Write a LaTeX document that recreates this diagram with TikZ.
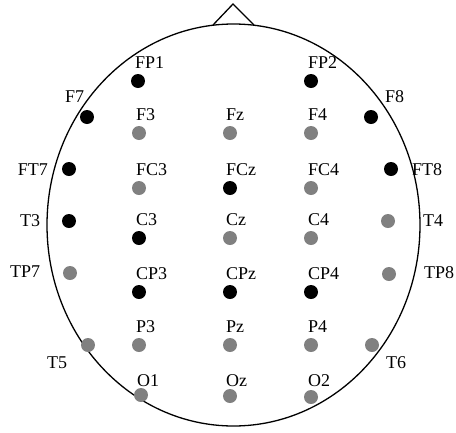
\documentclass[tikz,border=0pt]{standalone}
\usepackage{fontspec}
\setmainfont{Liberation Serif}
\definecolor{egray}{RGB}{128,128,128}
\begin{document}
\begin{tikzpicture}[x=1pt,y=-1pt,
  head/.style={line width=1.3pt, draw=black},
  bdot/.style={circle, fill=black, inner sep=0pt, minimum size=14pt},
  gdot/.style={circle, fill=egray, inner sep=0pt, minimum size=14pt},
  lab/.style={font=\fontsize{18}{18}\selectfont, inner sep=0pt, anchor=base west},
  labe/.style={lab, anchor=base east}]
\useasboundingbox (0,0) rectangle (456,432);
% head outline and nose
\draw[head] (233.5,225) ellipse [x radius=186.5, y radius=201];
\coordinate (noseL) at (213,25);
\coordinate (noseT) at (233,4);
\coordinate (noseR) at (254,25);
\draw[head, line join=miter] (noseL) -- (noseT) -- (noseR);
% FP row
\node[bdot] (FP1) at (138,81) {};
\node[bdot] (FP2) at (311,81) {};
\node[lab] (lFP1) at (135,68) {FP1};
\node[lab] (lFP2) at (308,68) {FP2};
% F row
\node[bdot] (F7) at (87,117) {};
\node[gdot] (F3) at (139,133) {};
\node[gdot] (Fz) at (230,133) {};
\node[gdot] (F4) at (311,133) {};
\node[bdot] (F8) at (371,117) {};
\node[lab] (lF7) at (65,102) {F7};
\node[lab] (lF3) at (136,120) {F3};
\node[lab] (lFz) at (226,120) {Fz};
\node[lab] (lF4) at (308,120) {F4};
\node[lab] (lF8) at (385,102) {F8};
% FC row
\node[bdot] (FT7) at (69,169) {};
\node[gdot] (FC3) at (139,188) {};
\node[bdot] (FCz) at (230,188) {};
\node[gdot] (FC4) at (311,188) {};
\node[bdot] (FT8) at (391,169) {};
\node[labe] (lFT7) at (48,175) {FT7};
\node[lab] (lFC3) at (136,175) {FC3};
\node[lab] (lFCz) at (226,175) {FCz};
\node[lab] (lFC4) at (308,175) {FC4};
\node[lab] (lFT8) at (412,175) {FT8};
% C row
\node[bdot] (T3) at (69,221) {};
\node[bdot] (C3) at (139,238) {};
\node[gdot] (Cz) at (230,238) {};
\node[gdot] (C4) at (311,238) {};
\node[gdot] (T4) at (388,221) {};
\node[lab] (lT3) at (20,226) {T3};
\node[lab] (lC3) at (136,225) {C3};
\node[lab] (lCz) at (226,225) {Cz};
\node[lab] (lC4) at (308,225) {C4};
\node[lab] (lT4) at (423,226) {T4};
% CP row
\node[gdot] (TP7) at (70,273) {};
\node[bdot] (CP3) at (139,292) {};
\node[bdot] (CPz) at (230,292) {};
\node[bdot] (CP4) at (311,292) {};
\node[gdot] (TP8) at (389,274) {};
\node[lab] (lTP7) at (10,277) {TP7};
\node[lab] (lCP3) at (136,279) {CP3};
\node[lab] (lCPz) at (226,279) {CPz};
\node[lab] (lCP4) at (308,279) {CP4};
\node[lab] (lTP8) at (424,278) {TP8};
% P row
\node[gdot] (T5) at (88,345) {};
\node[gdot] (P3) at (139,345) {};
\node[gdot] (Pz) at (230,345) {};
\node[gdot] (P4) at (311,345) {};
\node[gdot] (T6) at (372,345) {};
\node[lab] (lT5) at (47,368) {T5};
\node[lab] (lP3) at (136,332) {P3};
\node[lab] (lPz) at (226,332) {Pz};
\node[lab] (lP4) at (308,332) {P4};
\node[lab] (lT6) at (386,368) {T6};
% O row
\node[gdot] (O1) at (141,395) {};
\node[gdot] (Oz) at (230,396) {};
\node[gdot] (O2) at (311,397) {};
\node[lab] (lO1) at (137,386) {O1};
\node[lab] (lOz) at (226,386) {Oz};
\node[lab] (lO2) at (308,386) {O2};
\end{tikzpicture}
\end{document}
